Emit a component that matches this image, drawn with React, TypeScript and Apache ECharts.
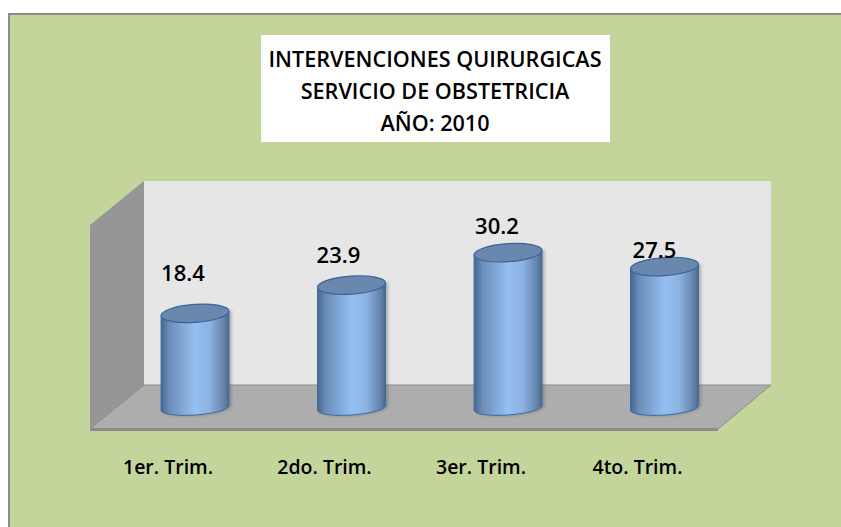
import React, { useEffect, useRef } from "react";
import * as echarts from "echarts";

const titleLines = ["INTERVENCIONES QUIRURGICAS", "SERVICIO DE OBSTETRICIA", "AÑO: 2010"];
const categories = ["1er. Trim.", "2do. Trim.", "3er. Trim.", "4to. Trim."];
const values = [18.4, 23.9, 30.2, 27.5];
const labelShift: number[][] = [[-12, -41], [-13, -31], [-11, -28], [-10, -18]];

const FONT = "'Open Sans', 'Noto Sans', sans-serif";
const RX = 34;
const RY = 9;
const RY_BASE = 7;
const TILT = 0.07;

function ellipsePoint(cx: number, cy: number, a: number, ry: number): number[] {
  const x = RX * Math.cos(a);
  const y = ry * Math.sin(a);
  return [cx + x * Math.cos(TILT) + y * Math.sin(TILT), cy - x * Math.sin(TILT) + y * Math.cos(TILT)];
}

function cylinderItem(params: any, api: any) {
  const i = api.value(0);
  const v = api.value(1);
  const top = api.coord([i, v]);
  const base = api.coord([i, 0]);
  const pts: number[][] = [];
  for (let k = 0; k <= 24; k++) pts.push(ellipsePoint(base[0], base[1], Math.PI - (k / 24) * Math.PI, RY_BASE));
  pts.push(ellipsePoint(top[0], top[1], 0, RY));
  pts.push(ellipsePoint(top[0], top[1], Math.PI, RY));
  const gradient = new echarts.graphic.LinearGradient(0, 0, 1, 0, [
    { offset: 0, color: "#45688f" },
    { offset: 0.12, color: "#6a8db8" },
    { offset: 0.5, color: "#95bff2" },
    { offset: 0.72, color: "#8bb2e2" },
    { offset: 0.92, color: "#6584aa" },
    { offset: 1, color: "#4a6a90" },
  ]);
  return {
    type: "group",
    children: [
      {
        type: "polygon",
        shape: { points: pts },
        style: { fill: gradient, stroke: "#3f6a9e", lineWidth: 1, shadowBlur: 3, shadowColor: "rgba(80,80,90,0.4)", shadowOffsetX: 2, shadowOffsetY: 0 },
      },
      {
        type: "ellipse",
        x: top[0],
        y: top[1],
        rotation: TILT,
        shape: { cx: 0, cy: 0, rx: RX, ry: RY },
        style: { fill: "#6a87ad", stroke: "#3a6398", lineWidth: 1.2 },
      },
      {
        type: "text",
        style: {
          text: v.toFixed(1),
          x: top[0] + labelShift[i][0],
          y: top[1] + labelShift[i][1],
          align: "center",
          verticalAlign: "middle",
          font: `600 22px ${FONT}`,
          fill: "#000",
        },
      },
    ],
  };
}

export default function App() {
  const ref = useRef<HTMLDivElement>(null);
  useEffect(() => {
    const chart = echarts.init(ref.current!, null, { renderer: "svg" });
    chart.setOption({
      animation: false,
      backgroundColor: "#ffffff",
      title: {
        text: titleLines.join("\n"),
        left: 430,
        top: 37,
        textAlign: "center",
        textStyle: { fontFamily: FONT, fontSize: 21.6, fontWeight: 600, color: "#000", lineHeight: 32 },
      },
      grid: { left: 116.75, width: 626, top: 228, height: 180 },
      xAxis: {
        type: "category",
        data: categories,
        axisLine: { show: false },
        axisTick: { show: false },
        axisLabel: { margin: 48, padding: [0, 54, 0, 0], color: "#000", fontFamily: FONT, fontSize: 19.5, fontWeight: 600 },
      },
      yAxis: { type: "value", min: 0, max: 35, interval: 5, show: false },
      graphic: [
        { type: "rect", z: 0, shape: { x: 9, y: 14, width: 840, height: 520 }, style: { fill: "#c4d59c", stroke: "#8a8a8a", lineWidth: 2 } },
        { type: "rect", z: 1, shape: { x: 261, y: 35, width: 349, height: 107 }, style: { fill: "#ffffff" } },
        { type: "rect", z: 1, shape: { x: 144, y: 181, width: 627, height: 204 }, style: { fill: "#e6e6e6" } },
        { type: "polygon", z: 1, shape: { points: [[90, 225], [144, 181], [144, 385], [90, 429]] }, style: { fill: "#969696" } },
        { type: "polygon", z: 1, shape: { points: [[90, 429], [144, 385], [771, 385], [718, 429]] }, style: { fill: "#adadad", stroke: "#8c8c8c", lineWidth: 1 } },
        { type: "rect", z: 1, shape: { x: 90, y: 428, width: 628, height: 3 }, style: { fill: "#8c8c8c" } },
      ],
      series: [
        {
          type: "custom",
          z: 5,
          clip: false,
          renderItem: cylinderItem,
          encode: { x: 0, y: 1 },
          data: values.map((v, i) => [i, v]),
        },
      ],
    });
    return () => chart.dispose();
  }, []);
  return <div ref={ref} style={{ position: "absolute", left: 0, top: 0, width: 841, height: 527 }} />;
}
